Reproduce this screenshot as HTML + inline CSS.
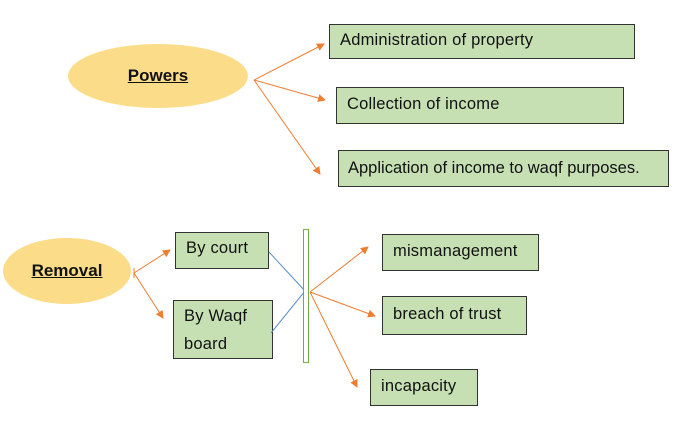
<!DOCTYPE html>
<html><head><style>
body{margin:0;background:#fff;width:676px;height:423px;overflow:hidden;position:relative;font-family:"Liberation Sans",Calibri,sans-serif;}
.b{position:absolute;background:#c6e0b4;border:1px solid #333;box-sizing:border-box;font-size:16.5px;color:#111;padding-left:10px;white-space:nowrap;letter-spacing:0.2px;}
.e{position:absolute;background:#fbdd89;border-radius:50%;font-weight:bold;text-decoration:underline;font-size:17px;display:flex;align-items:center;justify-content:center;color:#111;}
</style></head><body>
<div class="e" style="left:68px;top:44px;width:180px;height:64px;">Powers</div>
<div class="e" style="left:3px;top:238px;width:128px;height:66px;">Removal</div>
<div class="b" style="left:329px;top:24px;width:306px;height:35px;line-height:31px;">Administration of property</div>
<div class="b" style="left:336px;top:87px;width:288px;height:37px;line-height:32px;">Collection of income</div>
<div class="b" style="left:338px;top:150px;width:331px;height:37px;line-height:34px;padding-left:9px;letter-spacing:0;">Application of income to waqf purposes.</div>
<div class="b" style="left:175px;top:232px;width:94px;height:37px;line-height:31px;">By court</div>
<div class="b" style="left:173px;top:300px;width:100px;height:59px;line-height:28px;padding-top:1px;">By Waqf<br>board</div>
<div class="b" style="left:382px;top:234px;width:157px;height:37px;line-height:32px;">mismanagement</div>
<div class="b" style="left:382px;top:296px;width:145px;height:39px;line-height:34px;">breach of trust</div>
<div class="b" style="left:370px;top:369px;width:108px;height:37px;line-height:32px;">incapacity</div>
<svg width="676" height="423" style="position:absolute;left:0;top:0">
<defs><marker id="a" markerWidth="8" markerHeight="8" refX="7" refY="4" orient="auto" markerUnits="userSpaceOnUse"><path d="M0,0 L8,4 L0,8z" fill="#ed7d31"/></marker></defs>
<g stroke="#ed7d31" stroke-width="1" fill="none" marker-end="url(#a)">
<line x1="254" y1="80" x2="324" y2="44"/>
<line x1="254" y1="80" x2="325" y2="100"/>
<line x1="254" y1="80" x2="320" y2="174"/>
<line x1="134" y1="273" x2="170" y2="250"/>
<line x1="134" y1="273" x2="163" y2="318"/>
<line x1="310" y1="292" x2="368" y2="247"/>
<line x1="310" y1="292" x2="375" y2="316"/>
<line x1="310" y1="292" x2="357" y2="387"/>
</g>
<line x1="134" y1="268" x2="134" y2="278" stroke="#ed7d31"/>
<g stroke="#5b8fc7" stroke-width="1">
<line x1="269" y1="252" x2="305" y2="291"/>
<line x1="271" y1="333" x2="305" y2="291"/>
</g>
<rect x="303.5" y="229.5" width="5" height="133" fill="#fff" stroke="#70ad47"/>
</svg>
</body></html>
